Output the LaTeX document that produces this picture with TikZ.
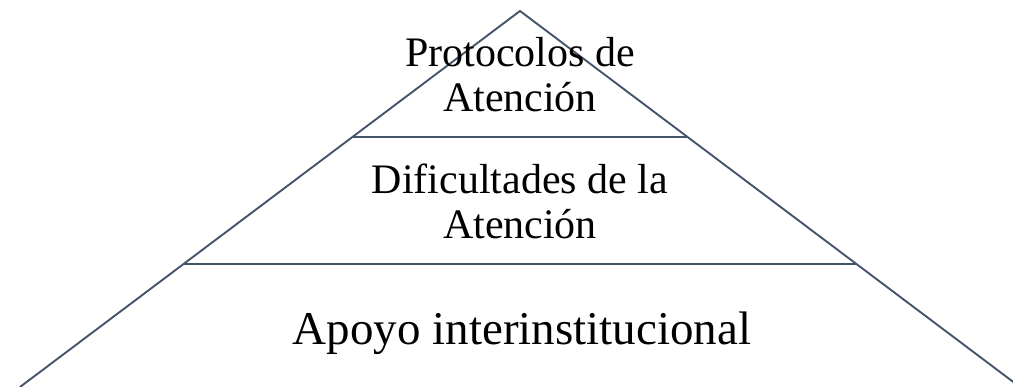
\documentclass[tikz,border=0pt]{standalone}
\usepackage{fontspec}
\setmainfont{Liberation Serif}
\usetikzlibrary{calc}
\definecolor{pyrline}{HTML}{44546A}

\begin{document}
\begin{tikzpicture}[x=1pt,y=1pt,line width=1.9pt]
\useasboundingbox (0,0) rectangle (1013,387);
\clip (0,0) rectangle (1013,387);

\coordinate (apex) at (520,376);
\coordinate (bl) at (20,0);
\coordinate (br) at (1020,0);

\draw[pyrline] (bl) -- (apex) -- (br);

\draw[pyrline,line width=2.9pt] ($(apex)!0.335!(bl)$) -- ($(apex)!0.335!(br)$);
\draw[pyrline,line width=2.9pt] ($(apex)!0.673!(bl)$) -- ($(apex)!0.673!(br)$);

\node[anchor=north,inner sep=0pt,align=center,font=\fontsize{42}{45}\selectfont] (top) at (520,351) {Protocolos de\\Atención};
\node[anchor=north,inner sep=0pt,align=center,font=\fontsize{42}{45}\selectfont] (mid) at (520,224) {Dificultades de la\\Atención};
\node[anchor=north,inner sep=0pt,font=\fontsize{47}{50}\selectfont] (base) at (522,76) {Apoyo interinstitucional};

\end{tikzpicture}
\end{document}
